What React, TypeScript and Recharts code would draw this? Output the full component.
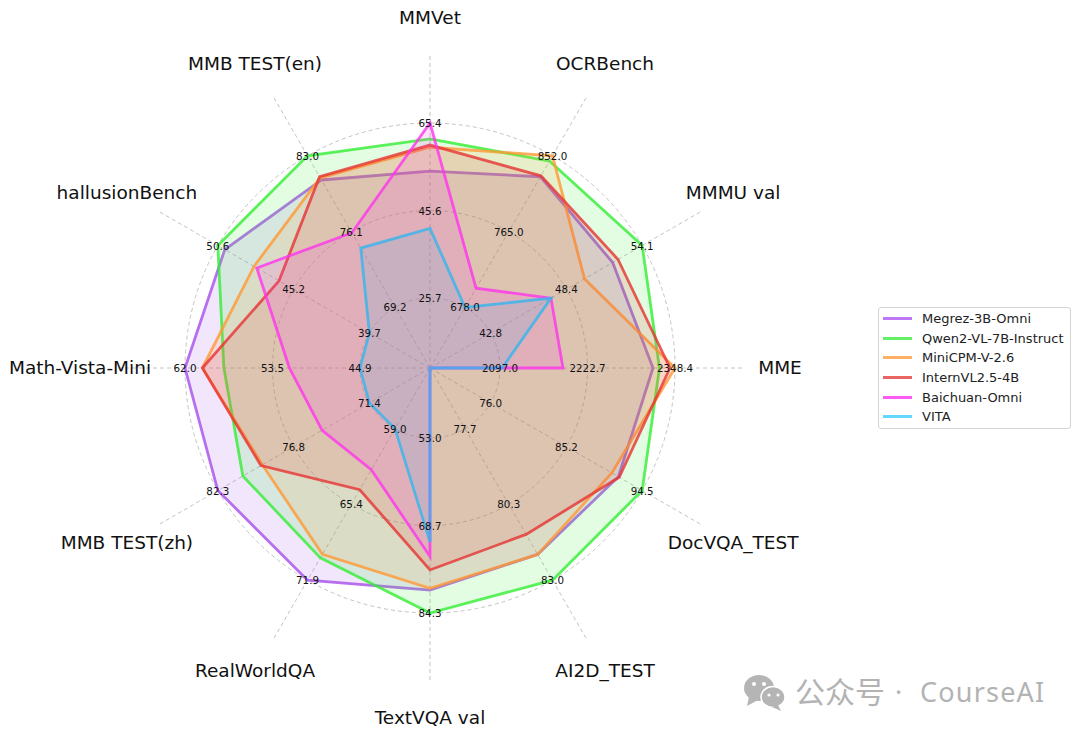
import React from 'react';
import { RadarChart, Radar, PolarGrid, PolarAngleAxis, PolarRadiusAxis, Legend } from 'recharts';

const FONT = '"DejaVu Sans", sans-serif';

const axes = [
  'MME', 'MMMU val', 'OCRBench', 'MMVet', 'MMB TEST(en)', 'hallusionBench',
  'Math-Vista-Mini', 'MMB TEST(zh)', 'RealWorldQA', 'TextVQA val', 'AI2D_TEST', 'DocVQA_TEST',
];

// every axis has its own scale, printed on the three rings
const tickLow = [2097.0, 42.8, 678.0, 25.7, 69.2, 39.7, 44.9, 71.4, 59.0, 53.0, 77.7, 76.0];
const tickMid = [2222.7, 48.4, 765.0, 45.6, 76.1, 45.2, 53.5, 76.8, 65.4, 68.7, 80.3, 85.2];
const tickHigh = [2348.4, 54.1, 852.0, 65.4, 83.0, 50.6, 62.0, 82.3, 71.9, 84.3, 83.0, 94.5];

// null = no result for that benchmark, drawn at the centre
const megrez = [2316.8, 51.9, 828.0, 54.5, 80.8, 50.1, 62.0, 82.3, 71.9, 80.2, 82.1, 91.6];
const qwen = [2326.1, 54.1, 846.0, 61.8, 83.0, 50.6, 58.2, 80.5, 70.0, 84.3, 83.0, 94.5];
const miniCpm = [2348.4, 49.8, 852.0, 59.9, 81.0, 48.0, 60.3, 79.1, 69.7, 79.9, 82.1, 90.8];
const internVl = [2341.2, 52.3, 829.0, 60.4, 81.1, 46.2, 60.3, 79.2, 64.2, 76.6, 81.4, 91.7];
const baichuan = [2187.5, 47.3, 700.0, 65.4, 76.0, 47.8, 51.8, 74.8, 62.5, 74.2, null, null];
const vita = [2100.0, 47.3, 678.0, 41.5, 74.6, 39.7, 44.9, 71.4, 59.0, 71.6, null, null];

const series = [
  { name: 'Megrez-3B-Omni', values: megrez, color: '#a64dea', legendColor: '#be78f5' },
  { name: 'Qwen2-VL-7B-Instruct', values: qwen, color: '#33ee33', legendColor: '#64f064' },
  { name: 'MiniCPM-V-2.6', values: miniCpm, color: '#ff9933', legendColor: '#ffaf64' },
  { name: 'InternVL2.5-4B', values: internVl, color: '#e63333', legendColor: '#eb6464' },
  { name: 'Baichuan-Omni', values: baichuan, color: '#ff33ee', legendColor: '#ff5af5' },
  { name: 'VITA', values: vita, color: '#33b5ee', legendColor: '#64d7ff' },
];

const OUTER = 315;
const SCORE_MAX = 2;
const RING_LOW = 4 / 9;
const RING_MID = 1;
const RING_HIGH = 14 / 9;

const score = (v: number | null, i: number) =>
  v === null ? 0 : RING_LOW + ((v - tickLow[i]) / (tickHigh[i] - tickLow[i])) * (RING_HIGH - RING_LOW);

// the picture runs counter-clockwise from MME, recharts only lines up ticks and
// points when it runs clockwise, so the rows go in reverse order
const rowOrder = axes.map((_, i) => (axes.length - i) % axes.length);

const data = rowOrder.map((i) => {
  const row: Record<string, string | number> = { axis: axes[i], low: RING_LOW, mid: RING_MID, high: RING_HIGH };
  series.forEach((s) => {
    row[s.name] = score(s.values[i], i);
  });
  return row;
});

const rings = [RING_LOW, RING_MID, RING_HIGH].map((s) => (s / SCORE_MAX) * OUTER);

const CategoryTick = ({ x, y, payload }: any) => (
  <text x={x} y={y - 1} textAnchor="middle" dominantBaseline="central" fontFamily={FONT} fontSize={18.5} fill="#111">
    {payload.value}
  </text>
);

const ringLabel = (ticks: number[]) => (p: any) => (
  <text
    key={p.index}
    x={p.cx}
    y={p.cy}
    textAnchor="middle"
    dominantBaseline="central"
    fontFamily={FONT}
    fontSize={10.3}
    fill="#111"
  >
    {ticks[rowOrder[p.index]].toFixed(1)}
  </text>
);

const LegendBox = () => (
  <div
    style={{
      boxSizing: 'border-box',
      width: 193,
      height: 122,
      border: '1px solid #d4d4d4',
      borderRadius: 3,
      background: '#fff',
      padding: '1px 0 0 4px',
      fontFamily: FONT,
      fontSize: 13,
      color: '#222',
    }}
  >
    {series.map((s) => (
      <div key={s.name} style={{ display: 'flex', alignItems: 'center', height: 19.6, whiteSpace: 'nowrap' }}>
        <span style={{ width: 29, height: 3, background: s.legendColor, marginRight: 10 }} />
        {s.name}
      </div>
    ))}
  </div>
);

const Watermark = () => (
  <svg width={320} height={50} style={{ position: 'absolute', left: 735, top: 667 }}>
    <g fill="#b5b5b5">
      <ellipse cx={24} cy={21} rx={15} ry={13} />
      <path d="M14 30 L12 39 L23 33 Z" />
      <ellipse cx={38} cy={30} rx={12} ry={10.5} stroke="#fff" strokeWidth={1.5} />
      <path d="M43 38 L46 44 L37 40 Z" />
    </g>
    <g fill="#fff">
      <circle cx={19} cy={17} r={2} />
      <circle cx={29} cy={17} r={2} />
      <circle cx={34} cy={28} r={1.6} />
      <circle cx={43} cy={28} r={1.6} />
    </g>
    <text x={60} y={36} fill="#b3b3b3" fontSize={30} fontFamily='"Noto Sans CJK SC"'>
      公众号
    </text>
    <text x={160} y={35} fill="#b3b3b3" fontSize={27} fontFamily='"Noto Sans"'>
      ·
    </text>
    <text x={185} y={35} fill="#b3b3b3" fontSize={27} letterSpacing={1.2} fontFamily='"Noto Sans"'>
      CourseAI
    </text>
  </svg>
);

export default function App() {
  return (
    <div style={{ position: 'absolute', left: 0, top: 0, width: 1080, height: 736, background: '#fff' }}>
      <RadarChart
        width={1080}
        height={736}
        data={data}
        cx={430}
        cy={368}
        outerRadius={OUTER}
        startAngle={0}
        endAngle={-360}
        margin={{ top: 0, right: 0, bottom: 0, left: 0 }}
      >
        <PolarGrid gridType="circle" polarRadius={rings} stroke="#c4c4c4" strokeDasharray="4 3" />
        <PolarAngleAxis dataKey="axis" tickSize={35} tickLine={false} axisLine={false} tick={CategoryTick} />
        <PolarRadiusAxis domain={[0, SCORE_MAX]} tick={false} axisLine={false} />
        {series.map((s) => (
          <Radar
            key={s.name}
            name={s.name}
            dataKey={s.name}
            stroke={s.color}
            strokeOpacity={0.8}
            strokeWidth={2.8}
            fill={s.color}
            fillOpacity={0.14}
            dot={false}
            isAnimationActive={false}
          />
        ))}
        <Radar dataKey="low" stroke="none" fill="none" legendType="none" dot={ringLabel(tickLow)} isAnimationActive={false} />
        <Radar dataKey="mid" stroke="none" fill="none" legendType="none" dot={ringLabel(tickMid)} isAnimationActive={false} />
        <Radar dataKey="high" stroke="none" fill="none" legendType="none" dot={ringLabel(tickHigh)} isAnimationActive={false} />
        <Legend content={LegendBox} wrapperStyle={{ left: 878, top: 307, width: 193, height: 122 }} />
      </RadarChart>
      <Watermark />
    </div>
  );
}
